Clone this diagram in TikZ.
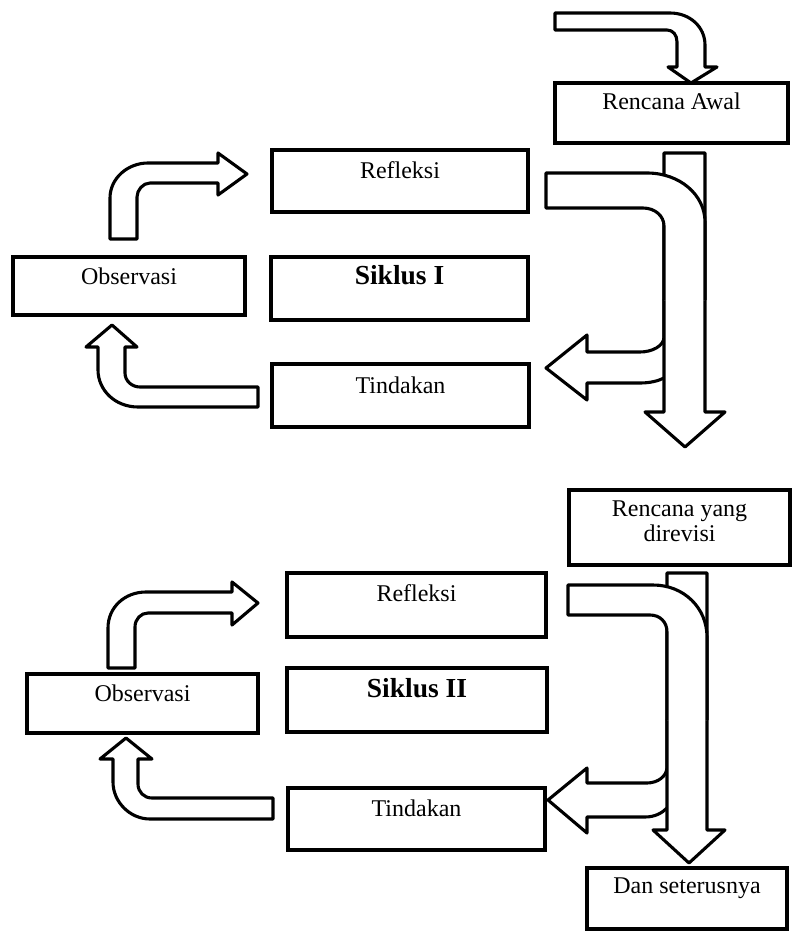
\documentclass[tikz,border=0pt]{standalone}
\usepackage{fontspec}
\setmainfont{Liberation Serif}
\begin{document}
\begin{tikzpicture}[x=1pt,y=-1pt,
  box/.style={draw, fill=white, line width=3.1pt, rectangle, inner sep=0pt},
  lbl/.style={font=\fontsize{24}{25}\selectfont, inner sep=0pt, align=center},
  blbl/.style={font=\fontsize{27.5}{29}\selectfont\bfseries, inner sep=0pt},
  blk/.style={draw, fill=white, line width=3.1pt, line join=round},
  blkfill/.style={fill=white},
  blkline/.style={draw, line width=3.1pt, line join=round}]
\useasboundingbox (0,0) rectangle (793,931);

% ---------- boxes ----------
\node[box, minimum width=233pt, minimum height=60pt] (ra) at (671.5,113) {};
\node[box, minimum width=256pt, minimum height=62pt] (refl1) at (400,181) {};
\node[box, minimum width=257pt, minimum height=63pt] (sik1) at (399.5,288.5) {};
\node[box, minimum width=257pt, minimum height=63pt] (tind1) at (400.5,395.5) {};
\node[box, minimum width=232pt, minimum height=58pt] (obs1) at (129,286) {};
\node[box, minimum width=221pt, minimum height=75pt] (ryd) at (679.5,527.5) {};
\node[box, minimum width=259pt, minimum height=64pt] (refl2) at (416.5,605) {};
\node[box, minimum width=260pt, minimum height=64pt] (sik2) at (417,700) {};
\node[box, minimum width=257pt, minimum height=62pt] (tind2) at (416.5,819) {};
\node[box, minimum width=231pt, minimum height=59pt] (obs2) at (142.5,703.5) {};
\node[box, minimum width=200pt, minimum height=61pt] (dan) at (687,898.5) {};

% ---------- texts ----------
\node[lbl] (tra) at ([yshift=-20pt]ra.north) {Rencana Awal};
\node[lbl] (trefl1) at ([yshift=-22pt]refl1.north) {Refleksi};
\node[blbl] (tsik1) at ([yshift=-20pt]sik1.north) {Siklus I};
\node[lbl] (ttind1) at ([yshift=-23pt]tind1.north) {Tindakan};
\node[lbl] (tobs1) at ([yshift=-21pt]obs1.north) {Observasi};
\node[lbl] (tryd) at ([yshift=-33pt]ryd.north) {Rencana yang\\direvisi};
\node[lbl] (trefl2) at ([yshift=-22pt]refl2.north) {Refleksi};
\node[blbl] (tsik2) at ([yshift=-22pt]sik2.north) {Siklus II};
\node[lbl] (ttind2) at ([yshift=-22pt]tind2.north) {Tindakan};
\node[lbl] (tobs2) at ([yshift=-21pt]obs2.north) {Observasi};
\node[lbl] (tdan) at ([yshift=-22pt]dan.north) {Dan seterusnya};

% ---------- block arrows, cycle I ----------
% bent arrow into Rencana Awal
\path[blk] (555,13) -- (670,13) .. controls (690,13) and (705,27) .. (705,45)
  -- (705,67) -- (717,67) -- (691,83) -- (668,67) -- (677,67) -- (677,42)
  .. controls (677,35) and (673,30) .. (667,30) -- (555,30) -- cycle;
% Observasi -> Refleksi
\path[blk] (110,239) -- (110,198) .. controls (110,178) and (128,163) .. (148,163)
  -- (218,163) -- (218,153) -- (247,174) -- (218,195) -- (218,183) -- (150,183)
  .. controls (143,183) and (137,190) .. (137,197) -- (137,239) -- cycle;
% Tindakan -> Observasi
\path[blk] (258,387) -- (140,387) .. controls (132,387) and (125,381) .. (125,373)
  -- (125,347) -- (137,347) -- (112,325) -- (86,347) -- (98,347) -- (98,370)
  .. controls (98,390) and (115,407) .. (138,407) -- (258,407) -- cycle;
% left-pointing arrow to Tindakan
\path[blk] (664,300) -- (664,337) .. controls (664,346) and (652,352) .. (640,352)
  -- (587,352) -- (587,335) -- (546,368) -- (587,400) -- (587,383) -- (640,383)
  .. controls (650,383) and (658,381) .. (664,378) -- (676,378) -- (676,300) -- cycle;
% long down arrow
\path[blk] (664,153) -- (705,153) -- (705,412) -- (725,412) -- (685,447)
  -- (645,412) -- (664,412) -- cycle;
% Refleksi -> down (top part of U-turn)
\fill[blkfill] (546,173) -- (647,173) .. controls (680,173) and (705,195) .. (705,222)
  -- (705,300) -- (664,300) -- (664,226) .. controls (664,216) and (655,208) .. (643,208)
  -- (546,208) -- cycle;
\draw[blkline] (705,300) -- (705,222) .. controls (705,195) and (680,173) .. (647,173)
  -- (546,173) -- (546,208) -- (643,208) .. controls (655,208) and (664,216) .. (664,226)
  -- (664,300);

% ---------- block arrows, cycle II ----------
% Observasi -> Refleksi
\path[blk] (108,668) -- (108,628) .. controls (108,607) and (125,592) .. (146,592)
  -- (232,592) -- (232,582) -- (258,603) -- (232,625) -- (232,613) -- (148,613)
  .. controls (141,613) and (135,619) .. (135,627) -- (135,668) -- cycle;
% Tindakan -> Observasi
\path[blk] (273,798) -- (152,798) .. controls (144,798) and (138,792) .. (138,784)
  -- (138,759) -- (152,759) -- (126,738) -- (100,759) -- (113,759) -- (113,782)
  .. controls (113,802) and (130,819) .. (150,819) -- (273,819) -- cycle;
% left-pointing arrow to Tindakan
\path[blk] (667,720) -- (667,767) .. controls (667,776) and (658,783) .. (647,783)
  -- (587,783) -- (587,768) -- (548,800) -- (587,833) -- (587,817) -- (645,817)
  .. controls (655,817) and (662,813) .. (667,808) -- (680,808) -- (680,720) -- cycle;
% long down arrow
\path[blk] (667,573) -- (707,573) -- (707,830) -- (725,830) -- (689,863)
  -- (653,830) -- (667,830) -- cycle;
% Refleksi -> down (top part of U-turn)
\fill[blkfill] (568,585) -- (653,585) .. controls (684,585) and (707,608) .. (707,637)
  -- (707,720) -- (667,720) -- (667,632) .. controls (667,622) and (660,615) .. (650,615)
  -- (568,615) -- cycle;
\draw[blkline] (707,720) -- (707,637) .. controls (707,608) and (684,585) .. (653,585)
  -- (568,585) -- (568,615) -- (650,615) .. controls (660,615) and (667,622) .. (667,632)
  -- (667,720);
\end{tikzpicture}
\end{document}
